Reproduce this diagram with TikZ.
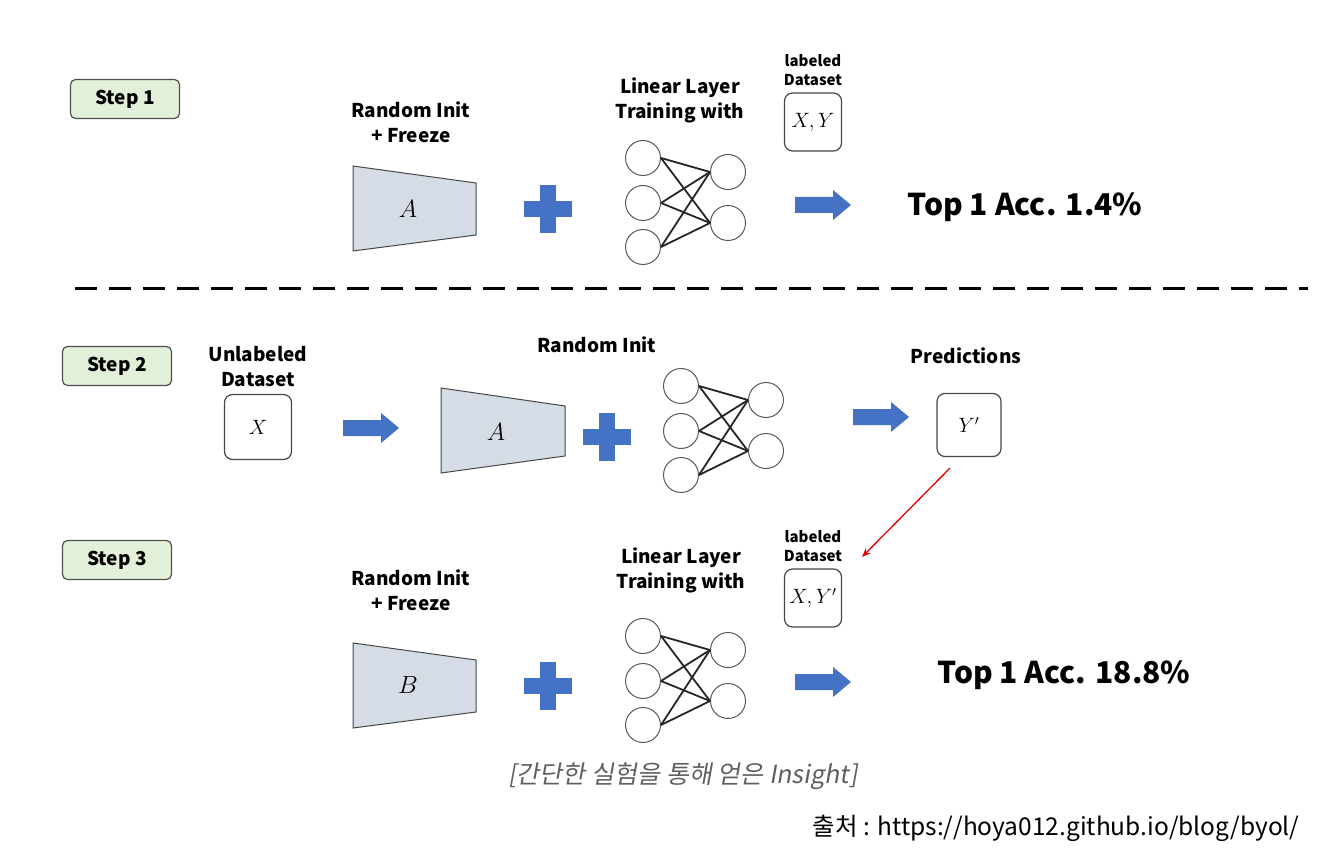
\documentclass[tikz,border=0pt]{standalone}
\usepackage{fontspec}
\setmainfont{Noto Sans CJK KR}
\newfontfamily\notefont[FakeSlant=0.18]{Noto Sans CJK KR}
\usetikzlibrary{arrows.meta,positioning}
\definecolor{stepgreen}{RGB}{226,240,217}
\definecolor{stepedge}{RGB}{80,80,80}
\definecolor{encfill}{RGB}{214,220,229}
\definecolor{plusblue}{RGB}{68,114,196}
\definecolor{boxedge}{RGB}{70,70,70}
\definecolor{notegray}{RGB}{95,95,95}

\tikzset{
  plus/.pic={\fill[plusblue] (-8,-24) rectangle (8,24);
    \fill[plusblue] (-24,-8) rectangle (24,8);},
  blockarrow/.pic={\fill[plusblue] (-28,-8) -- (10,-8) -- (10,-15) -- (28,0)
    -- (10,15) -- (10,8) -- (-28,8) -- cycle;}
}

% one linear layer: three inputs, two outputs
\newcommand\linnet[3]{%
  \foreach \i/\dy in {1/0,2/45,3/89}
    \node[neuron] (#1l\i) at (#2,#3+\dy) {};
  \foreach \j/\dy in {1/14,2/65}
    \node[neuron] (#1r\j) at (#2+85,#3+\dy) {};
  \foreach \i in {1,2,3}
    \foreach \j in {1,2}
      \draw[synapse] (#1l\i.east) -- (#1r\j.west);
}

\begin{document}
\begin{tikzpicture}[x=1pt,y=-1pt,
  steplabel/.style={draw=stepedge,fill=stepgreen,rounded corners=5pt,line width=1.2pt,
    minimum width=109pt,minimum height=39pt,font=\fontsize{19}{23}\selectfont\bfseries},
  head/.style={align=center,font=\fontsize{19}{25}\selectfont\bfseries},
  smallhead/.style={align=center,font=\fontsize{15}{19}\selectfont\bfseries},
  dataset/.style={draw=boxedge,rounded corners=8pt,line width=1.2pt,
    minimum width=57pt,minimum height=58pt,font=\fontsize{20}{24}\selectfont},
  encoder/.style={draw=boxedge,fill=encfill,line width=1pt},
  enclabel/.style={font=\fontsize{24}{28}\selectfont},
  neuron/.style={circle,draw=black!65,minimum size=35pt,inner sep=0pt,line width=1pt},
  synapse/.style={line width=1.8pt,black!85},
  result/.style={font=\fontsize{30}{36}\selectfont\bfseries},
  redarr/.style={-{Stealth[length=9pt,width=7pt]},red!90!black,line width=1.3pt}
]
\useasboundingbox (0,0) rectangle (1332,858);

% step 1
\node[steplabel] (s1) at (125,99) {Step 1};
\node[head] (ri1) at (411,122) {Random Init\\+ Freeze};
\draw[encoder] (353,166) -- (476,183) -- (476,235) -- (353,251) -- cycle;
\node[enclabel] (enc1) at (408,209) {$A$};
\pic at (548,209) {plus};
\node[head] (ll1) at (680,100) {Linear Layer\\Training with};
\linnet{n1}{643}{158}
\node[smallhead] (lab1) at (813,70) {labeled\\Dataset};
\node[dataset] (xy1) at (813,122) {$X,Y$};
\pic at (823,205) {blockarrow};
\node[result] (acc1) at (1025,207) {Top 1 Acc. 1.4\%};

\coordinate (sepl) at (75,289);
\coordinate (sepr) at (1308,289);
\draw[line width=3pt,dash pattern=on 22pt off 12pt] (sepl) -- (sepr);

% step 2
\node[steplabel] (s2) at (117,366) {Step 2};
\node[head] (ul2) at (258,367) {Unlabeled\\Dataset};
\node[dataset,minimum width=67pt,minimum height=65pt] (x2) at (258,427) {$X$};
\pic at (371,428) {blockarrow};
\draw[encoder] (441,388) -- (565,406) -- (565,456) -- (441,473) -- cycle;
\node[enclabel] (enc2) at (496,432) {$A$};
\node[head] (ri2) at (597,345) {Random Init};
\pic at (607,437) {plus};
\linnet{n2}{681}{386}
\pic at (881,417) {blockarrow};
\node[head] (pr2) at (966,356) {Predictions};
\node[dataset,minimum width=64pt,minimum height=63pt] (yp2) at (969,425) {$Y'$};

% step 3
\node[steplabel] (s3) at (117,560) {Step 3};
\node[head] (ri3) at (411,590) {Random Init\\+ Freeze};
\draw[encoder] (353,643) -- (476,660) -- (476,712) -- (353,728) -- cycle;
\node[enclabel] (enc3) at (408,685) {$B$};
\pic at (548,686) {plus};
\node[head] (ll3) at (681,570) {Linear Layer\\Training with};
\linnet{n3}{643}{636}
\node[smallhead] (lab3) at (813,546) {labeled\\Dataset};
\node[dataset] (xy3) at (813,598) {$X,Y'$};
\pic at (823,682) {blockarrow};
\node[result] (acc3) at (1064,675) {Top 1 Acc. 18.8\%};

\coordinate (rs) at (950,468);
\coordinate (re) at (862,557);
\draw[redarr] (rs) -- (re);

\node[font=\fontsize{25}{30}\selectfont\notefont,text=notegray] (note) at (683,776)
  {[간단한 실험을 통해 얻은 Insight]};
\node[anchor=east,font=\fontsize{24.5}{29}\selectfont] (src) at (1303,828)
  {출처 : https://hoya012.github.io/blog/byol/};
\end{tikzpicture}
\end{document}
